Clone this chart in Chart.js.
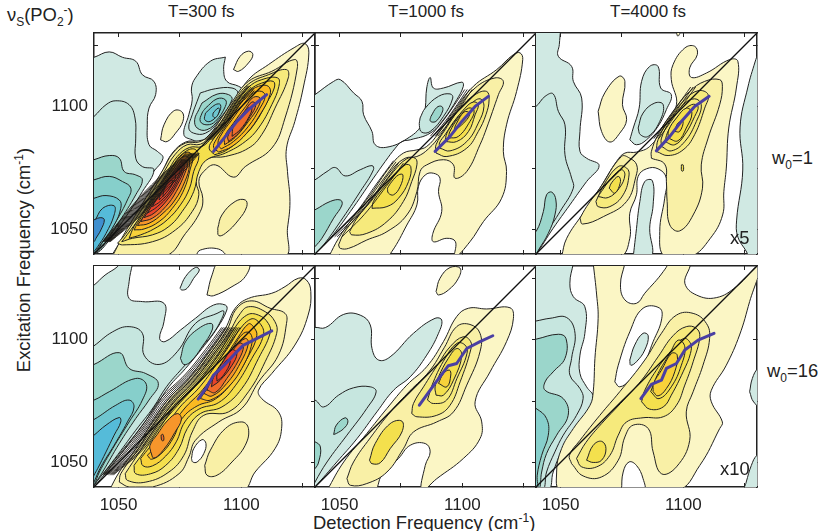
<!DOCTYPE html>
<html>
<head>
<meta charset="utf-8">
<title>2D IR spectra</title>
<script src="https://cdn.jsdelivr.net/npm/chart.js@4/dist/chart.umd.min.js"></script>
<style>
  html, body { margin: 0; padding: 0; background: #fff; }
  #page { position: relative; width: 818px; height: 531px; overflow: hidden; font-family: "Liberation Sans", sans-serif; color: #222; }
  #page canvas { position: absolute; }
  .txt { position: absolute; font-size: 18.4px; line-height: 18px; white-space: nowrap; }
  .txt sub, .txt sup { font-size: 12px; line-height: 0; }
  .ttl { font-size: 17px; }
</style>
</head>
<body>
<div id="page">
  <div class="txt ttl" style="left:168px;top:3px;">T=300 fs</div>
  <div class="txt ttl" style="left:388px;top:3px;">T=1000 fs</div>
  <div class="txt ttl" style="left:610px;top:3px;">T=4000 fs</div>
  <div class="txt" style="left:7px;top:6px;">&nu;<sub>S</sub>(PO<sub>2</sub><sup>-</sup>)</div>
  <div class="txt" style="left:313px;top:514px;">Detection Frequency (cm<sup>-1</sup>)</div>
  <div class="txt" style="left:24px;top:260px;transform:translate(-50%,-50%) rotate(-90deg);">Excitation Frequency (cm<sup>-1</sup>)</div>
  <div class="txt" style="left:772px;top:149px;">w<sub>0</sub>=1</div>
  <div class="txt" style="left:767px;top:362px;">w<sub>0</sub>=16</div>
  <div class="txt" style="left:730px;top:229px;z-index:5;">x5</div>
  <div class="txt" style="left:720px;top:460px;z-index:5;">x10</div>
</div>
<script>
// axis data
const axisMin = 1040;
const axisMax = 1130;
const tickValues = [1050, 1075, 1100, 1125];
const labelledTicks = [1050, 1100];
const diagonal = [1040, 1040, 1130, 1130];

// contour lines, [x, y, x, y, ...] in cm-1
// level: >0 bleach (yellow to red), <0 induced absorption (teal to blue), 0 = blank
const panelALevels = [-1, -2, -3, -4, -5, -6, -7, -1, -2, -3, -4, -5, -5, 1, 1, 1, 0, 2, 2, 3, 4,
  5, 6, 7, 8, 9, 9, 9, 10, 10, 5, 6, 6, 7, 8, 8];
const panelAShapes = [
  [1038.1,1119.8, 1040,1120.1, 1046.2,1122.3, 1051.6,1120.1, 1057,1118.5, 1059.7,1113, 1064.4,1110.3, 1065.1,1104.9, 1062.4,1099.4, 1061.7,1092.6, 1062.4,1084.5, 1065.8,1081.8, 1068.1,1079, 1063.8,1072.9, 1054.3,1058, 1044.9,1045, 1040,1040, 1038.1,1038.2],
  [1038.1,1094.7, 1040,1096, 1044.9,1100.8, 1048.9,1102.4, 1054.3,1100.8, 1056.7,1095.4, 1057,1087.2, 1057,1079, 1059.7,1075.6, 1064.4,1074.3, 1059.7,1065.4, 1051.6,1053.2, 1043.5,1042.3, 1040,1039.6, 1038.1,1038.2],
  [1038.1,1077.7, 1040,1078.4, 1046.2,1080.1, 1050.3,1079, 1052.3,1073.6, 1057,1072.2, 1059.7,1070.2, 1057,1064.1, 1050.3,1053.2, 1043.5,1043, 1040,1039.6, 1038.1,1038.2],
  [1038.1,1069.5, 1040,1070.2, 1046.2,1071.6, 1051.6,1069.5, 1055,1066.8, 1053.6,1062, 1048.9,1053.2, 1042.8,1043.7, 1040,1039.6, 1038.1,1038.2],
  [1038.1,1062, 1040,1062.7, 1044.9,1063.8, 1050.3,1062, 1050.9,1058.6, 1048.2,1051.8, 1043.5,1045, 1040,1040.3, 1038.1,1038.2],
  [1038.1,1052.5, 1040,1053.2, 1043.5,1058.6, 1048.2,1059.6, 1048.2,1055.9, 1044.9,1048.4, 1041.5,1043, 1040,1041, 1038.1,1038.2],
  [1038.1,1053, 1040,1053.9, 1042.8,1054.8, 1044.2,1053.9, 1042.8,1049.8, 1040.8,1046.4, 1040,1045, 1038.1,1044],
  [1093.5,1120.2, 1087.4,1118.5, 1081.3,1111.7, 1079.7,1107.6, 1080,1102.8, 1078.6,1096.7, 1076.6,1088.6, 1080,1086.5, 1083.3,1085.8, 1087.4,1087.9, 1093.5,1094.7, 1100.2,1106.9, 1098.9,1108.3, 1094.1,1110.3, 1092.8,1115.1],
  [1083.3,1105.6, 1089.4,1107.3, 1096.2,1107.6, 1098.6,1105.6, 1096.2,1101.5, 1090.8,1094, 1085.4,1089.2, 1080.6,1089.2, 1078.6,1091.3, 1080,1096.7, 1082,1102.2],
  [1084,1101.5, 1090.1,1105.1, 1094.8,1104.9, 1096.2,1102.8, 1090.8,1094.7, 1086,1090.6, 1082,1091.3, 1081,1094.7, 1082.7,1098.8],
  [1085.4,1099.4, 1090.1,1103.2, 1093.5,1102.8, 1093.5,1100.1, 1089.4,1094, 1086,1092.6, 1083.3,1094, 1084,1097.4],
  [1085.4,1097.4, 1089.4,1100.8, 1091.5,1100.8, 1090.8,1097.4, 1087.4,1094, 1085.1,1094.7],
  [1088.5,1097.4, 1090.5,1099.4, 1091.2,1098.8, 1089.7,1095.6, 1088.5,1096],
  [1067.1,1086.5, 1068.5,1092.6, 1072.5,1098.3, 1075.9,1097.8, 1076.2,1094, 1073.2,1089.2, 1069.8,1085.8],
  [1096.8,1115.1, 1099.5,1120.5, 1102.9,1122.6, 1104.7,1121.2, 1102.9,1117.8, 1098.9,1114.4],
  [1046.9,1038.9, 1051.6,1046.4, 1057,1054.6, 1062.4,1064.1, 1067.8,1073.6, 1071.9,1081.1, 1077.3,1085.6, 1082.7,1086.1, 1087.4,1087.9, 1092.1,1094, 1096.2,1100.8, 1102.9,1111, 1111,1117.1, 1121.8,1124.2, 1125.9,1125.7, 1127.5,1121.9, 1125.2,1107.6, 1121.8,1094, 1118.4,1083.1, 1118.8,1073.6, 1119.8,1061.4, 1118.8,1050.5, 1117.1,1038.9],
  [1081.3,1038.9, 1083.3,1041.6, 1090.8,1042, 1093.5,1038.9],
  [1090.4,1050.5, 1092.1,1055.9, 1097.5,1061.4, 1101.6,1062, 1102.2,1059.3, 1098.9,1053.9, 1093.5,1048.4, 1090.8,1047.5],
  [1047.6,1039.3, 1069.2,1039.3, 1077.3,1048.4, 1083.3,1057.3, 1084.3,1062.7, 1082.7,1069.5, 1084.7,1073.6, 1089.4,1076.3, 1096.8,1071.3, 1101.6,1075.6, 1112.4,1083.1, 1117.8,1095.4, 1122.8,1115.8, 1121.8,1119.2, 1112.4,1114.4, 1102.9,1110.3, 1096.2,1101.9, 1090.8,1093.7, 1086.7,1088.3, 1082.7,1085.6, 1077.3,1085.2, 1072.1,1081.1, 1068.1,1074.3, 1062.7,1065.4, 1057.3,1056.6, 1051.9,1047.5],
  [1049.6,1044.4, 1051.6,1043.7, 1063.8,1045, 1073.2,1049.8, 1080,1057.3, 1082.7,1064.1, 1081.6,1069.5, 1083.3,1075.6, 1086.7,1079, 1093.5,1079.7, 1102.9,1083.1, 1108.3,1088.6, 1113.7,1099.4, 1119.1,1111.7, 1118.4,1115.1, 1111,1113, 1102.9,1109.2, 1096.8,1101.9, 1091.4,1093.3, 1087.4,1088.1, 1083.3,1084.7, 1077.9,1084.5, 1072.9,1080.4, 1068.6,1073.6, 1063.4,1064.8, 1058,1055.9, 1052.7,1048],
  [1051.3,1045, 1055.7,1046.4, 1063.8,1047.8, 1070.5,1051.2, 1075.9,1057.3, 1080.6,1065.4, 1082.7,1073.6, 1086,1078.4, 1093.5,1081.1, 1101.6,1085.8, 1107,1091.3, 1112.4,1100.8, 1115.3,1108.3, 1114.8,1111.7, 1108.3,1111, 1102.9,1107.9, 1097.8,1101.6, 1092.4,1092.9, 1088.1,1087.6, 1084,1083.8, 1078.9,1083.4, 1073.9,1079.7, 1069.6,1072.9, 1064.2,1064.1, 1058.8,1055.2, 1053.6,1048],
  [1054.3,1046.4, 1059,1047.8, 1064.4,1050.2, 1069.8,1053.9, 1075.2,1060, 1078.9,1066.8, 1080.6,1073.6, 1082.7,1079.7, 1080.6,1082.8, 1075.9,1080.7, 1072.1,1076, 1065.4,1065.4, 1060.4,1057.3, 1056.3,1051.2],
  [1056.3,1049.8, 1060.4,1050.2, 1066.5,1053.2, 1071.9,1058.6, 1076.6,1066.1, 1079.3,1075, 1080.2,1079.7, 1077.9,1081.5, 1074.6,1079, 1072.5,1076.3, 1065.8,1065.4, 1060.8,1057.3, 1057.7,1052.5],
  [1057.7,1051.6, 1062.4,1052.5, 1068.1,1056.6, 1073,1062, 1077,1069.5, 1078.9,1076.3, 1078,1079.7, 1075.7,1079.3, 1073,1075.6, 1066.2,1065.4, 1061.4,1057.3],
  [1059,1053.2, 1063.8,1054.6, 1069.2,1059.3, 1073.5,1065.4, 1077,1072.9, 1078,1076.9, 1076.2,1078.3, 1073.5,1075.2, 1066.7,1065.4, 1062.1,1058.3],
  [1060.4,1054.8, 1064.4,1056.6, 1069.8,1062, 1073.9,1068.2, 1076.6,1074.3, 1076.2,1077, 1074,1075, 1067.3,1065.4, 1063.1,1058.9],
  [1061.7,1056.6, 1065.8,1059.3, 1070.5,1064.1, 1074.3,1070.2, 1075.9,1075, 1074.6,1075.6, 1068.1,1066.1, 1063.8,1060],
  [1063.8,1059.3, 1067.2,1061.6, 1071.3,1066.1, 1074.3,1071.6, 1075,1074.3, 1073.2,1074.3, 1068.8,1066.8, 1065.1,1061.6],
  [1066.5,1062, 1069.8,1065.4, 1072.5,1069.5, 1073.2,1072.2, 1071.6,1072.2, 1069.2,1067.9, 1067,1064.1],
  [1068.1,1063.4, 1070.8,1066.8, 1072.1,1069.8, 1070.8,1069.8, 1068.5,1066.1],
  [1089.1,1080.4, 1093.5,1082, 1100.2,1087.2, 1105.6,1093.3, 1110.3,1101.5, 1113.4,1107.6, 1113,1110.3, 1108.3,1109.6, 1103.6,1106.9, 1098.6,1101.1, 1093.2,1092.6, 1088.7,1086.9, 1086.9,1083.1],
  [1090.8,1081.5, 1096.2,1083.8, 1102.2,1089.2, 1107.6,1096.7, 1111.7,1104.9, 1111,1108.3, 1107,1108.3, 1102.9,1105.6, 1099.1,1100.4, 1093.7,1092.2, 1089.7,1086.5, 1088.7,1083.4],
  [1091.8,1082.8, 1096.8,1085.8, 1102.9,1092, 1107.6,1099.4, 1109.7,1104.2, 1108.3,1106.2, 1104.9,1105.6, 1101.3,1101.5, 1096.2,1094.7, 1091.4,1087.9, 1090.5,1084.7],
  [1093.2,1084.5, 1097.5,1087.5, 1102.9,1094, 1107,1100.1, 1107.6,1103.5, 1104.9,1103.8, 1101.8,1100.1, 1096.8,1093.3, 1093.2,1087.9],
  [1094.8,1085.8, 1098.9,1089.2, 1103.6,1096, 1105.9,1100.8, 1104.3,1101.9, 1101.3,1098.1, 1096.8,1092, 1094.5,1087.9],
  [1096.2,1087.9, 1099.5,1090.6, 1103.2,1096, 1104.3,1099.4, 1102.7,1099.4, 1099.5,1095.4, 1096.8,1092],
];
const panelARidge = [1088.7,1081.8, 1093.5,1087.9, 1098.2,1094, 1102.9,1098.8, 1107,1102.2, 1110.3,1104.9];
// tightly packed contour lines next to the diagonal
const panelABand = [
  [1043.5,1045, 1050,1053, 1058.5,1063, 1068.5,1073, 1077.5,1081],
  [1043.7,1045, 1050.4,1053, 1059,1063, 1069,1073, 1078,1081],
  [1043.9,1045, 1050.8,1053, 1059.5,1063, 1069.5,1073, 1078.5,1081],
  [1044.1,1045, 1051.2,1053, 1060,1063, 1070,1073, 1079,1081],
  [1044.3,1045, 1051.6,1053, 1060.5,1063, 1070.5,1073, 1079.5,1081],
  [1044.5,1045, 1052,1053, 1061,1063, 1071,1073, 1079.8,1081],
  [1044.7,1045, 1052.4,1053, 1061.5,1063, 1071.5,1073, 1080.1,1081],
  [1044.9,1045, 1052.8,1053, 1062,1063, 1072,1073, 1080.4,1081],
  [1045.1,1045, 1053.2,1053, 1062.5,1063, 1072.4,1073, 1080.7,1081],
  [1045.3,1045, 1053.6,1053, 1063,1063, 1072.8,1073, 1081,1081],
  [1045.5,1045, 1054,1053, 1063.5,1063, 1073.2,1073, 1081.3,1081],
  [1045.7,1045, 1054.4,1053, 1064,1063, 1073.6,1073, 1081.6,1081],
  [1045.9,1045, 1054.8,1053, 1064.5,1063, 1074.1,1073, 1081.9,1081],
  [1046.1,1045, 1055.2,1053, 1065.1,1063, 1074.6,1073, 1082.2,1081],
  [1046.3,1045, 1055.6,1053, 1065.7,1063, 1075.2,1073, 1082.5,1081],
  [1046.6,1045, 1056.1,1053, 1066.4,1063, 1076,1073, 1082.9,1081],
  [1085,1086.5, 1092,1094, 1096.5,1101, 1102.5,1108.5],
  [1085.5,1086.5, 1092.5,1094, 1097,1101, 1103,1108.5],
  [1086,1086.5, 1093,1094, 1097.5,1101, 1103.5,1108.5],
  [1086.5,1086.5, 1093.5,1094, 1098,1101, 1104,1108],
  [1087,1086.5, 1094,1094, 1098.5,1101, 1104.5,1107.5],
  [1087.5,1086.5, 1094.5,1094, 1099,1101, 1105,1107],
  [1088,1086.5, 1095,1094, 1099.5,1101, 1105.3,1106.5],
];

const panelBLevels = [-1, -2, -3, -2, -3, 1, 2, 3, 4, 4, 3, 3, 4, 4, 5];
const panelBShapes = [
  [1038.1,1103.6, 1040,1104.9, 1047.6,1110.3, 1050.3,1111, 1055.7,1105.6, 1059.1,1102.2, 1059.8,1096.7, 1063.2,1089.9, 1064.5,1084.5, 1069.3,1083.5, 1077.4,1086.9, 1083.5,1092.6, 1084.9,1099.4, 1085.5,1107.6, 1086.9,1111.9, 1088.2,1107.6, 1092.3,1107.6, 1099.8,1110, 1100.4,1108.3, 1097.7,1102.8, 1092.3,1094.7, 1086.9,1089.2, 1078.8,1086.5, 1075.4,1085.8, 1072.7,1083.1, 1068.6,1077.7, 1063.8,1070.9, 1054.4,1057.3, 1046.2,1046.4, 1040,1040, 1038.1,1038.2],
  [1038.1,1069.5, 1040,1070.2, 1044.9,1073.6, 1048.3,1075.2, 1052.3,1071.8, 1058.4,1074.3, 1063.2,1076, 1063.8,1074.3, 1058.4,1065.4, 1050.3,1053.2, 1043.5,1043.7, 1040,1040, 1038.1,1038.2],
  [1038.1,1057.3, 1040,1058, 1046.2,1061.4, 1050.3,1062, 1051,1060, 1047.6,1054.6, 1042.8,1046.4, 1040,1043, 1038.1,1041],
  [1082.8,1095.4, 1084.9,1099.4, 1090.3,1104.2, 1095,1105.2, 1096.1,1103.5, 1092.3,1096, 1086.9,1089.9, 1083.5,1089.6, 1082.5,1092.3],
  [1087.2,1096, 1089.6,1099.7, 1091.6,1100.1, 1092,1098.3, 1089.6,1094.3, 1088,1093.7, 1086.9,1094.3],
  [1045.6,1038.9, 1049.6,1046.4, 1055.7,1055.2, 1062.5,1064.1, 1070.6,1075.6, 1076,1081.1, 1081.5,1082.4, 1085.5,1083.8, 1090.3,1089.2, 1096.4,1098.1, 1104.5,1108.3, 1114,1115.1, 1120.8,1121.2, 1123.5,1121.9, 1124.6,1119.2, 1122.1,1106.2, 1118,1092.6, 1116.7,1081.8, 1118,1073.6, 1116,1062.7, 1108.6,1053.2, 1103.1,1045, 1097,1038.9, 1097.2,1045, 1093.7,1046.4, 1088.2,1045, 1088,1048.4, 1091.6,1057.3, 1090.3,1065.4, 1090.9,1070.9, 1088.2,1072.9, 1084.9,1072.2, 1082.1,1067.5, 1081.5,1060, 1077.4,1051.8, 1071.3,1041, 1068.6,1038.9],
  [1049.6,1043.7, 1050.3,1042.3, 1053.7,1042.3, 1061.1,1045.7, 1069.3,1049.1, 1077.4,1055.9, 1081.5,1065.4, 1082.8,1073.6, 1085.5,1076.3, 1092.3,1078.4, 1096.4,1076.3, 1097,1070.9, 1101.8,1073.6, 1107.2,1084.5, 1109.9,1091.3, 1114.7,1104.9, 1116.7,1110.3, 1113.3,1111.7, 1105.2,1107.6, 1097,1097.4, 1091.2,1088.6, 1086.2,1082.8, 1081.5,1079.7, 1076.7,1079, 1071.3,1074.3, 1063.2,1062.7, 1056.4,1054.6, 1051.7,1048.4],
  [1054.1,1049.1, 1055,1047.8, 1061.1,1048.4, 1069.3,1053.2, 1076,1061.4, 1079.4,1069.5, 1081.5,1076.3, 1080.8,1079, 1077.4,1078.8, 1072,1073.6, 1063.8,1062.7, 1057.1,1054.6],
  [1063.2,1058.6, 1069.3,1059.3, 1074,1062.7, 1078.1,1069.5, 1079,1075.6, 1076.7,1076.3, 1072,1071.6, 1067.2,1066.1, 1063.8,1061.4],
  [1069.5,1066.8, 1069.9,1064.8, 1072,1064.1, 1074.7,1067.5, 1075.8,1072.2, 1074,1072.2, 1071.3,1069.5],
  [1089.3,1081.1, 1093.7,1079.7, 1101.8,1083.1, 1106.5,1089.9, 1109.6,1096.7, 1110.9,1102.8, 1109.9,1106.2, 1105.2,1104.9, 1099.1,1099.4, 1093,1090.6, 1089.3,1084.5],
  [1090.9,1083.1, 1095,1082, 1101.8,1085.8, 1106.5,1093.3, 1108.8,1100.1, 1107.2,1103.2, 1103.1,1100.8, 1097.7,1095.4, 1093,1088.6, 1090.7,1085.2],
  [1093,1085.8, 1097.7,1085.8, 1102.5,1089.9, 1105.2,1096.7, 1106.5,1100.8, 1104.5,1101.9, 1101.1,1099.4, 1096.4,1093.3, 1093.7,1089.2],
  [1094.3,1087.2, 1098.4,1087.9, 1103.1,1094, 1104.8,1098.3, 1102.5,1099.4, 1098.4,1095.4, 1095,1090],
  [1097,1090.2, 1101.8,1094.7, 1102.9,1097.4, 1100.7,1097.8, 1097.7,1093.3, 1096.8,1091],
];
const panelBRidge = [1088.9,1081.8, 1095,1087.9, 1099.8,1094, 1105.2,1100.1, 1110.6,1104.2];
const panelBBand = [
  [1047,1047, 1056,1056, 1065,1068.5, 1072,1078],
  [1048,1047, 1057,1056, 1066,1068, 1073,1077.5],
  [1049,1047, 1058,1056, 1067,1067.5, 1074,1077],
  [1051,1047, 1060,1056, 1069,1067.5, 1076,1077],
  [1087,1088, 1092,1094, 1097,1101, 1101,1107],
  [1088,1088, 1093,1094, 1098,1101, 1102,1107],
  [1089,1088, 1094,1094, 1099,1101, 1103,1107],
  [1090,1088, 1095,1094, 1100,1101, 1104,1107],
];

const panelCLevels = [-1, -2, -3, -1, -2, -1, -1, 1, 1, 1, 2, 3, 3, 4, 2, 3, 3, 4, 4, 5, 4];
const panelCShapes = [
  [1050,1131.4, 1049.5,1125.3, 1049.1,1120.5, 1054.5,1116.4, 1055.2,1110.3, 1058.6,1103.5, 1057.9,1089.9, 1057.9,1081.8, 1060.6,1079, 1065.7,1076, 1060.6,1069.5, 1053.8,1060, 1047,1050.5, 1040,1040, 1037.6,1038.2, 1037.6,1131.4],
  [1037.6,1099.4, 1040,1100.1, 1043.7,1104.2, 1047,1105.2, 1049.1,1098.1, 1051.8,1092.6, 1051.8,1080.4, 1054.5,1070.9, 1055.2,1066.8, 1049.8,1057.3, 1044.3,1048.4, 1040,1040, 1037.6,1038.2],
  [1037.6,1048.4, 1040,1049.1, 1043,1057.3, 1044.3,1064.1, 1046.4,1065.2, 1048.1,1062, 1047.7,1055.9, 1045,1048.4, 1041,1041.6, 1040,1040, 1037.6,1038.2],
  [1078.2,1086.5, 1079.6,1091.3, 1082,1099.4, 1083,1110.3, 1086.3,1116.4, 1089.7,1116.4, 1090.8,1107.6, 1095.1,1104.9, 1093.1,1098.8, 1089.7,1092, 1085,1086.5, 1080.9,1084.5],
  [1081.6,1091.3, 1083.6,1097.4, 1088.4,1101.5, 1091.8,1100.8, 1090.4,1094, 1085.7,1087.9, 1082.5,1088.6],
  [1079.6,1038.9, 1080.7,1048.4, 1082.3,1061.4, 1084.3,1069.5, 1087.4,1069.8, 1087.7,1060, 1086.3,1050.5, 1087,1038.9],
  [1130.5,1122, 1129.2,1118.2, 1126.3,1108, 1123.1,1091.7, 1124.2,1074.2, 1121.7,1053.8, 1122.2,1046.9, 1125.8,1040.8, 1127,1038, 1133,1038, 1133,1122],
  [1065.3,1098.1, 1068,1105.6, 1073.9,1112.4, 1076.2,1110.3, 1075.2,1100.8, 1076.9,1094.7, 1074.1,1089.2, 1070.1,1085.6, 1066.7,1089.9],
  [1096.9,1131.4, 1097.8,1128.7, 1098.8,1131.4],
  [1050.4,1038.9, 1052.5,1046.4, 1059.2,1056.6, 1066,1066.8, 1072.8,1077.7, 1076.2,1081.1, 1080.9,1081.5, 1086.3,1083.8, 1091.8,1091.3, 1097.2,1100.8, 1095.1,1111, 1095.8,1117.1, 1100.6,1123.9, 1104.6,1124.6, 1105.7,1121.2, 1102.6,1115.8, 1103.3,1111.9, 1109.4,1113.7, 1118.9,1119.2, 1122.2,1118.5, 1121.6,1107.6, 1118.5,1091.3, 1117.5,1075, 1116.5,1065.4, 1116,1055.9, 1111,1046.4, 1103,1038.9, 1092.4,1038.9, 1090.4,1049.1, 1092.4,1062.7, 1093.1,1070.9, 1089.7,1074.7, 1085,1074.7, 1081.6,1071.6, 1080.9,1064.1, 1078.2,1056.6, 1078.2,1046.4, 1074.1,1038.9],
  [1057.9,1054.6, 1059,1052.2, 1067.4,1055.2, 1076.9,1061.4, 1080.7,1071.6, 1081,1076.3, 1078.2,1079, 1074.8,1079.7, 1066,1066.8, 1060.6,1059.3],
  [1064.4,1061.4, 1065.3,1059.3, 1070.1,1059.3, 1075.5,1064.1, 1077.9,1072.2, 1076.9,1075, 1073.5,1075.6, 1068,1068.8],
  [1065.3,1063.4, 1069.4,1063, 1073.9,1066.8, 1076.2,1072.2, 1074.8,1074.3, 1070.8,1071.1, 1067.1,1066.1],
  [1069.8,1066.8, 1072.1,1064.8, 1074.4,1069.5, 1073.5,1071.6, 1070.8,1069],
  [1087,1079, 1092.4,1076.6, 1093.1,1069.5, 1093.4,1061.4, 1094.5,1051.8, 1098.5,1049.4, 1104,1055.9, 1107.8,1066.8, 1107.3,1076.3, 1110.1,1087.2, 1114.8,1100.8, 1115.9,1108.3, 1114.8,1111, 1108.7,1110.3, 1102.6,1106.2, 1095.8,1098.1, 1089.7,1088.6, 1087,1081.8],
  [1089,1081.8, 1093.8,1080.1, 1099.9,1082.4, 1104.6,1088.6, 1108.7,1099.4, 1110.1,1104.9, 1106,1106.5, 1100.6,1102.8, 1094.5,1095.4, 1089.7,1086.5],
  [1091.1,1083.8, 1095.1,1082, 1100.6,1085.8, 1105.3,1094, 1107.3,1100.8, 1104.6,1103.2, 1099.9,1100.8, 1094.5,1094, 1091.1,1087.2],
  [1092.4,1085.8, 1096.5,1084.5, 1100.6,1088.6, 1104.6,1096, 1106,1100.1, 1103.3,1100.8, 1098.5,1096.7, 1094.1,1090.6],
  [1093.8,1087.2, 1097.8,1086.1, 1101.2,1091.3, 1103.5,1097.4, 1101.2,1099.4, 1097.2,1095.4, 1094.1,1090.6],
  [1096.5,1089.9, 1098.5,1089.9, 1099.9,1094, 1097.8,1093.3],
  [1099.2,1076.3, 1099.9,1076.3, 1100,1073.9, 1099.3,1073.9],
];
const panelCRidge = [1089,1082, 1094.5,1087.9, 1099.2,1094, 1104.6,1100.1, 1110.5,1104.2];
const panelCBand = [
  [1088,1087, 1093,1094, 1098,1101, 1103,1108],
  [1089,1087, 1094,1094, 1099,1101, 1104,1108],
  [1090,1087, 1095,1094, 1100,1101, 1105,1108],
];

const panelDLevels = [-1, 0, -1, -2, -3, -3, -4, -5, -6, 1, 1, 0, 2, 2, 3, 4, 5, 6, 7, 8, 6, 7, 8, 9, 9];
const panelDShapes = [
  [1055.7,1131.1, 1054.3,1123.6, 1054.3,1116.8, 1059.7,1115.5, 1068.5,1114.8, 1068.5,1107.3, 1066.7,1100.5, 1068.9,1099.2, 1075.2,1103.9, 1081.3,1108.7, 1088.7,1114.1, 1093.5,1114.1, 1094.1,1112.1, 1090.1,1104.6, 1084,1096.4, 1077.3,1088.3, 1070.5,1080.8, 1065.5,1073.3, 1059.7,1065.2, 1049.5,1051.6, 1040,1040, 1038.1,1038, 1038.1,1131.1],
  [1038,1121, 1040,1122.2, 1044.5,1126.3, 1049.4,1129.6, 1050.5,1131.5, 1038,1131.5],
  [1075,1120.9, 1077.3,1125.7, 1081.3,1129.4, 1082.9,1128.4, 1080.6,1125, 1077.9,1120.9, 1075.9,1120.2],
  [1038.1,1096.4, 1040,1097.5, 1047.6,1103.2, 1054.3,1105.3, 1059.7,1102.6, 1060.4,1093.7, 1066.5,1089.9, 1073.9,1095.1, 1081.3,1106.6, 1090.1,1110.7, 1092.8,1111.7, 1092.1,1108.7, 1088.1,1101.9, 1082.7,1095.8, 1075.9,1088.3, 1069.5,1080.8, 1064.3,1072.6, 1057,1063.1, 1048.5,1051.6, 1040,1040.7, 1038.1,1038],
  [1075.2,1092.4, 1077.3,1099.2, 1082.7,1104.6, 1087.8,1106.6, 1088.1,1103.9, 1084,1097.1, 1079.3,1091, 1076.6,1089.9],
  [1038.1,1089.4, 1040,1089.9, 1050.3,1094.7, 1054.3,1088.3, 1061.1,1086.2, 1066.2,1082.2, 1062.4,1075.4, 1057,1067.9, 1050.3,1057.7, 1043.5,1046.1, 1040,1040.7, 1038.1,1038],
  [1038.1,1075.4, 1040,1075.4, 1046.2,1078.8, 1057,1084.2, 1061.3,1081.8, 1059.7,1075.4, 1054.3,1066.5, 1047.6,1055.6, 1042.2,1046.1, 1040,1040.7, 1038.1,1038],
  [1038.1,1067.2, 1040,1067.5, 1048.9,1073.3, 1054.3,1075.4, 1056.3,1072.6, 1053.6,1066.5, 1048.2,1057, 1042.8,1048.2, 1040,1042, 1038.1,1038],
  [1038.1,1059.7, 1040,1061.1, 1044.9,1065.2, 1050.3,1068.3, 1050.9,1066.5, 1048.2,1061.1, 1044.9,1054.3, 1041.5,1047.5, 1040,1044.8, 1038.1,1040.7],
  [1046.2,1038.6, 1050.3,1046.1, 1057,1055.6, 1063.8,1066.5, 1070.5,1076, 1078.6,1084.2, 1086.7,1095.1, 1093.5,1104.6, 1097.5,1112.8, 1102.9,1116.8, 1112.4,1118.9, 1117.8,1121.6, 1123.2,1125, 1126.5,1124.3, 1128.3,1119.6, 1127.2,1110, 1121.8,1097.8, 1112.4,1086.2, 1107,1079.4, 1108.3,1076, 1115.1,1070.6, 1116.4,1063.8, 1113.7,1055.6, 1105.6,1046.1, 1100.2,1038.6],
  [1086,1118.2, 1088.1,1126.4, 1090.8,1131.1, 1102.9,1131.1, 1101.6,1125.7, 1096.2,1121.6, 1088.7,1117.9],
  [1079.7,1051.6, 1080.6,1055.6, 1084,1059.3, 1085.6,1057.7, 1084.7,1053.6, 1082,1050.2, 1080.2,1050.2],
  [1085.1,1048.8, 1087.4,1055, 1093.5,1063.8, 1100.2,1066.5, 1102.9,1063.8, 1101.6,1057, 1096.2,1050.2, 1090.1,1044.8, 1086,1044.8],
  [1050.3,1042, 1054.3,1040, 1063.8,1040, 1074.6,1045.4, 1078.6,1052.2, 1081.3,1059, 1090.8,1066.5, 1100.2,1072, 1107,1082.8, 1115.1,1093.7, 1118.4,1106.6, 1117.8,1110.7, 1111.7,1112.8, 1104.3,1115.8, 1098.2,1112.8, 1094.1,1103.9, 1087.4,1094.4, 1079.3,1083.5, 1071.2,1075.4, 1064.4,1065.8, 1057.7,1055, 1050.9,1045.4],
  [1052.7,1045.4, 1053.6,1042.7, 1061.1,1042, 1070.5,1046.1, 1076.6,1052.9, 1080,1062.4, 1084.7,1069.2, 1094.8,1070.6, 1102.9,1078.8, 1109.7,1091, 1114.4,1102.6, 1113.7,1107.3, 1109.7,1111.4, 1102.9,1113.4, 1099.1,1110, 1095.1,1103, 1088.3,1093.4, 1080.2,1082.6, 1072.3,1074.4, 1065.5,1064.9, 1058.8,1054.7],
  [1056.3,1048.8, 1057,1045.4, 1063.1,1045.4, 1069.2,1048.8, 1074.6,1055.6, 1078,1063.8, 1083.3,1069.9, 1092.1,1072.6, 1100.2,1080.1, 1107,1092.4, 1111.7,1102.6, 1111,1106.6, 1107,1110, 1102.2,1110, 1096.4,1103.5, 1089.7,1092.6, 1081.6,1081.8, 1073.3,1073.3, 1066.6,1063.8, 1060,1053.9],
  [1059,1051.6, 1060,1048.6, 1063.8,1048.6, 1069.2,1052.6, 1073.5,1058.4, 1077,1066.5, 1082.7,1071.7, 1090.8,1074.4, 1097.5,1081.2, 1104.3,1092.4, 1109,1101.9, 1107.6,1106.6, 1103.9,1108.4, 1097.9,1102.2, 1091.2,1092, 1083.1,1080.8, 1074.7,1072.2, 1068.1,1062.7, 1061.7,1055],
  [1061.7,1052.9, 1063.5,1051.3, 1068.1,1054.3, 1072.5,1060.4, 1075.9,1067.9, 1082,1073, 1089.4,1075.8, 1096.2,1082.6, 1102.9,1093.4, 1106.3,1101.6, 1104.9,1105.3, 1102.9,1106.4, 1098.6,1100.8, 1092.1,1090.7, 1084.4,1079.8, 1076.3,1071.3, 1069.8,1061.8, 1064.4,1055.6],
  [1063.1,1054.3, 1064.4,1051.8, 1068.5,1055.4, 1072.9,1062.2, 1075.6,1067.6, 1073.9,1069.9, 1069.8,1066.9, 1065.8,1061.5, 1062.8,1057],
  [1067.3,1061.1, 1068.1,1061.4, 1068.4,1059, 1067.6,1059],
  [1083.3,1076, 1087.4,1075.4, 1094.8,1080.8, 1100.9,1089.6, 1104.3,1098.5, 1103.6,1102.6, 1100.9,1102.6, 1096.8,1097.1, 1091.4,1088.3, 1086,1080.1],
  [1084.7,1078.1, 1088.1,1077.1, 1094.1,1082.2, 1099.5,1090.3, 1102.9,1098.5, 1101.6,1100.5, 1097.5,1096.4, 1092.1,1087.6, 1087.4,1081.5],
  [1086,1079.5, 1089.4,1078.5, 1094.1,1084.2, 1098.9,1091.7, 1100.9,1097.5, 1099.1,1098.5, 1094.8,1093, 1090.1,1086.2, 1087,1081.8],
  [1087.8,1080.8, 1091.4,1083.5, 1096.2,1089.6, 1098.2,1094.4, 1096.2,1095.8, 1092.1,1090.3, 1088.7,1084.8],
  [1090.1,1083.1, 1092.8,1085.6, 1095.5,1091, 1094.1,1091.7, 1091.4,1087.6, 1090.1,1085.8],
];
const panelDRidge = [1082.4,1075.8, 1086,1080.8, 1088.7,1085.6, 1092.8,1089.4, 1097.5,1094.4, 1100.9,1097.8, 1107,1100.8, 1112.4,1103.6];
const panelDBand = [
  [1043.5,1045, 1051.6,1055, 1059.7,1065, 1067.1,1076, 1077.3,1086, 1085.4,1096, 1092,1105],
  [1043.9,1045, 1052.3,1055, 1060.4,1065, 1068,1076, 1078.1,1086, 1086.2,1096, 1092.7,1105],
  [1044.3,1045, 1053.1,1055, 1061,1065, 1068.8,1076, 1078.9,1086, 1087,1096, 1093.4,1105],
  [1044.7,1045, 1053.8,1055, 1061.7,1065, 1069.7,1076, 1079.7,1086, 1087.8,1096, 1094,1105],
  [1045.1,1045, 1054.6,1055, 1062.3,1065, 1070.5,1076, 1080.5,1086, 1088.6,1096, 1094.7,1105],
  [1045.5,1045, 1055.3,1055, 1063,1065, 1071.4,1076, 1081.3,1086, 1089.4,1096, 1095.4,1105],
  [1045.9,1045, 1056,1055, 1063.7,1065, 1072.3,1076, 1082,1086, 1090.1,1096, 1096.1,1105],
  [1046.4,1045, 1056.8,1055, 1064.3,1065, 1073.1,1076, 1082.8,1086, 1090.9,1096, 1096.8,1105],
  [1046.8,1045, 1057.5,1055, 1065,1065, 1074,1076, 1083.6,1086, 1091.7,1096, 1097.4,1105],
  [1047.2,1045, 1058.2,1055, 1065.7,1065, 1074.9,1076, 1084.4,1086, 1092.5,1096, 1098.1,1105],
  [1047.6,1045, 1059,1055, 1066.3,1065, 1075.7,1076, 1085.2,1086, 1093.3,1096, 1098.8,1105],
  [1048,1045, 1059.7,1055, 1067,1065, 1076.6,1076, 1086,1086, 1094.1,1096, 1099.5,1105],
];

const panelELevels = [-1, -2, -3, -3, 1, 1, 2, 4, 3, 3, 4, 5];
const panelEShapes = [
  [1038.1,1104.6, 1040,1105, 1044.2,1104.9, 1051.7,1110.3, 1058.4,1110, 1062.5,1106, 1063.2,1096.4, 1065.9,1091.7, 1070.6,1093, 1080.1,1102.6, 1088.9,1108.7, 1091.6,1108, 1090.3,1102.6, 1085.5,1093.7, 1078.8,1084.9, 1072,1079.4, 1065.2,1070.6, 1057.1,1059.7, 1048.9,1050.2, 1040,1040, 1038.1,1038],
  [1038.1,1074.7, 1040,1075.4, 1043.5,1072.6, 1049.6,1077.4, 1055.7,1080.4, 1062.5,1080.8, 1064.9,1078.8, 1061.1,1072, 1053,1061.1, 1044.9,1050.2, 1040,1042, 1038.1,1038],
  [1047.6,1061.4, 1048.7,1065.2, 1052.3,1068.2, 1053.4,1066.5, 1051.7,1063.8, 1048.7,1061.8],
  [1038.1,1058.4, 1040,1058.4, 1042.2,1056.3, 1041.5,1050.2, 1040,1047.5, 1038.1,1046.1],
  [1089.3,1119.6, 1090.9,1125, 1095,1129.4, 1099.1,1129.1, 1098.4,1125, 1094.3,1120.2, 1090.3,1118.2],
  [1044.9,1038.6, 1051.7,1050.2, 1061.1,1061.8, 1069.3,1072, 1077.4,1081.5, 1085.5,1089, 1092.3,1099.2, 1097.7,1109.4, 1102.5,1112.8, 1109.9,1112.5, 1119.4,1113, 1120.8,1108.7, 1118,1099.2, 1111.3,1086.9, 1105.2,1074.7, 1107.9,1066.5, 1107.2,1059.7, 1100.4,1051.6, 1089.6,1043.4, 1083.5,1038.6, 1084.9,1048.8, 1086.9,1054.3, 1084.9,1057.7, 1078.8,1057, 1074,1051.6, 1067.2,1044.8, 1063.8,1038.6],
  [1053,1043.4, 1054.4,1040.7, 1061.1,1041.4, 1069.3,1046.1, 1076,1055.6, 1080.1,1062.4, 1089.6,1066.5, 1096.4,1070.6, 1101.8,1081.5, 1107.2,1095.1, 1107.2,1102.6, 1103.1,1106.2, 1097.7,1105.3, 1092.6,1096.7, 1086.6,1087.2, 1078.5,1079, 1071,1070.9, 1062.5,1060, 1055.7,1050.2],
  [1062.2,1050.9, 1064.5,1057.7, 1070.6,1065.8, 1075.4,1066.8, 1075.4,1062.4, 1070.6,1055.6, 1066.6,1049.9, 1063.2,1049.5],
  [1079.4,1069.9, 1081.5,1068.6, 1089.6,1069.2, 1095,1073.3, 1099.1,1082.8, 1103.4,1095.8, 1103.4,1099.2, 1100.4,1101.2, 1095,1097.1, 1090.3,1090.3, 1084.2,1080.8, 1080.1,1074],
  [1085.8,1075.4, 1088.2,1074, 1093.6,1075.4, 1097.8,1084.2, 1101.9,1094.4, 1101.1,1097.8, 1097.8,1098.5, 1093,1092.4, 1088.2,1082.8],
  [1089.3,1077.4, 1092.3,1077.4, 1096.4,1083.5, 1099.8,1093.7, 1097.8,1096.4, 1094.3,1092.4, 1090.3,1084.9, 1088.9,1080.8],
  [1090.3,1082.2, 1093.7,1080.8, 1095.3,1085.6, 1094.7,1087.6, 1092.3,1086.2],
];
const panelERidge = [1082.5,1073.3, 1088.9,1082.2, 1094.3,1089.4, 1097.7,1090.3, 1101.8,1096.4, 1107.2,1099.2, 1112.4,1101.6];

const panelFLevels = [-1, -2, -3, -4, -1, -1, 1, 0, 0, -1, 0, 2, 3, 4, 4, 4, 5];
const panelFShapes = [
  [1055.2,1131.1, 1053.8,1123, 1055.2,1117.5, 1059.9,1113.4, 1059.9,1102.6, 1057.9,1093.7, 1057.9,1086.2, 1060.6,1080.8, 1063.3,1076.7, 1060.6,1069.2, 1055.2,1061.1, 1050.4,1054.3, 1047,1046.1, 1045,1038.6, 1037.6,1038.6, 1037.6,1131.1],
  [1037.6,1107.3, 1040,1107.6, 1045.7,1108.7, 1052.5,1109, 1055.9,1102.6, 1054.5,1092.4, 1053.8,1085.6, 1057.9,1080.1, 1059.2,1076, 1056.5,1069.2, 1051.1,1061.1, 1047.7,1054.3, 1044.3,1046.1, 1042.7,1038.6, 1037.6,1038.6],
  [1037.6,1099.8, 1040,1100.2, 1049.1,1102.2, 1052.2,1100.5, 1051.8,1092.4, 1047,1086.9, 1043.7,1082.8, 1043.7,1079.4, 1051.1,1076, 1053.1,1069.2, 1048.4,1061.1, 1044.3,1053.6, 1042.3,1046.1, 1041,1038.6, 1037.6,1038.6],
  [1037.6,1072.6, 1040,1072, 1044.3,1067.9, 1045,1061.1, 1042.3,1052.9, 1040.5,1044.8, 1040.5,1038.6, 1037.6,1038.6],
  [1127,1078.8, 1128.1,1084.2, 1130.4,1088.3, 1132.4,1088.3, 1132.4,1072, 1128.6,1074.7],
  [1125.6,1042, 1127.7,1048.8, 1130,1052.9, 1132.4,1052.9, 1132.4,1038.6, 1125,1038.6],
  [1063.3,1131.1, 1064.7,1118.2, 1065.3,1108.7, 1064,1092.4, 1063.3,1078.8, 1062,1073.3, 1055.2,1063.8, 1050.4,1055.6, 1048.4,1046.1, 1050.4,1038.6, 1097.2,1038.6, 1106.7,1048.8, 1114.8,1063.8, 1115.9,1066.5, 1111.4,1074.7, 1111.4,1079.4, 1117.5,1089.6, 1122.9,1101.9, 1127,1115.5, 1131.1,1130.4, 1121.6,1121.6, 1113.4,1117.1, 1105.3,1118.2, 1100.6,1123, 1101.9,1131.1],
  [1076.2,1131.1, 1074.4,1122.3, 1076.2,1116.2, 1080.9,1114.8, 1084.3,1118.9, 1091.8,1127.7, 1093.1,1131.1],
  [1072.1,1082.8, 1073.5,1089.6, 1078.2,1103.2, 1083.6,1112.8, 1090.4,1112.8, 1091.1,1108, 1087.7,1099.2, 1083.6,1089.6, 1078.2,1083.5, 1074.1,1080.8],
  [1078.2,1091.7, 1080.2,1097.8, 1083.6,1102.6, 1085.7,1101.6, 1084.3,1095.8, 1080.9,1091, 1078.6,1089.6],
  [1074.8,1038.6, 1075.5,1046.1, 1077.9,1050.2, 1080.9,1048.8, 1083.6,1043.4, 1083.9,1038.6],
  [1054.5,1049.5, 1059.2,1044.5, 1066.7,1044.1, 1073.5,1050.9, 1076.2,1060.4, 1079.6,1065.2, 1085.7,1063.8, 1087.7,1054.3, 1091.1,1045.4, 1097.2,1048.2, 1102.6,1059, 1101.2,1070.6, 1104,1078.8, 1108,1089.6, 1110.7,1100.5, 1109.4,1106.6, 1104,1110.7, 1097.2,1110, 1091.1,1102.6, 1084.3,1091.7, 1074.1,1078.8, 1066,1069.2, 1057.9,1059, 1053.6,1052.9],
  [1056.5,1051.6, 1058.6,1048.2, 1064.7,1048.2, 1070.1,1052.9, 1073.5,1061.1, 1076.9,1066.5, 1083.6,1068.2, 1091.8,1068.6, 1097.2,1073.3, 1100.6,1081.5, 1104,1091, 1106.7,1101.2, 1105.3,1104.6, 1101.2,1105.3, 1095.8,1101.6, 1089.7,1093, 1083,1083.5, 1074.4,1074, 1066.7,1065.8, 1060.3,1058.1],
  [1060.6,1050.9, 1063.3,1057, 1066.7,1058.6, 1068.5,1055.6, 1066.7,1050.9, 1063.3,1050],
  [1083,1074.7, 1086.3,1071.7, 1091.8,1072.6, 1095.1,1077.4, 1099.9,1086.9, 1102.9,1094.4, 1102.9,1098.5, 1100.2,1100.5, 1095.8,1096.4, 1089.7,1088.6, 1084.3,1079.4],
  [1086.7,1078.8, 1090.1,1076, 1095.1,1080.8, 1099.2,1089.6, 1100.6,1097.1, 1097.9,1099.8, 1094.5,1094.4, 1089.7,1086.2],
  [1087.7,1078.8, 1089.7,1077.1, 1093.1,1080.1, 1096.5,1086.9, 1097.5,1093.7, 1095.2,1094.4, 1091.1,1087.6, 1087.9,1082.2],
];
const panelFRidge = [1082.7,1076, 1087,1081.8, 1091.1,1083.5, 1093.1,1088.3, 1097.2,1090.3, 1100.6,1095.8, 1106,1099.8, 1112.5,1102.6];

const levelColors = {
  '-7': '#3f8fcf', '-6': '#55bbd9', '-5': '#6ec6d0', '-4': '#86cfcb', '-3': '#9bd6cb', '-2': '#c6e6df', '-1': '#d0e9e3',
  '0': '#ffffff',
  '1': '#fbf6c5', '2': '#f9f0a6', '3': '#f6ea7c', '4': '#f4e04d', '5': '#f8d23a', '6': '#fbba21', '7': '#f6962b', '8': '#ef6b2b', '9': '#e8432a', '10': '#e63d2a',
};

function toPoints(flat, close) {
  const pts = [];
  for (let i = 0; i < flat.length; i += 2) pts.push({ x: flat[i], y: flat[i + 1] });
  if (close) pts.push({ x: flat[0], y: flat[1] });
  return pts;
}

const hideLabel = () => '';
const showLabel = v => (labelledTicks.includes(v) ? String(v) : '');

function axis(position, extent, labelled) {
  const vertical = position === 'left' || position === 'right';
  return {
    type: 'linear',
    position,
    min: axisMin,
    max: axisMax,
    afterBuildTicks(s) { s.ticks = tickValues.map(value => ({ value })); },
    afterFit(s) {
      if (vertical) s.width = extent; else s.height = extent;
      // tick labels must not push the plot area in
      s.paddingTop = s.paddingBottom = s.paddingLeft = s.paddingRight = 0;
    },
    grid: { drawOnChartArea: false, drawTicks: true, tickLength: -4, color: '#222', lineWidth: 1 },
    border: { display: true, color: '#222', width: 1.5 },
    ticks: {
      display: labelled,
      autoSkip: false,
      maxRotation: 0,
      padding: vertical ? 10 : 12,
      color: '#222',
      font: { family: '"Liberation Sans", sans-serif', size: 17 },
      callback: labelled ? showLabel : hideLabel,
    },
  };
}

function drawPanel(frameX, frameY, levels, shapes, ridge, band, showY, showX) {
  const pad = 4, leftExtent = showY ? 44 : 0, bottomExtent = showX ? 28 : 0, size = 221;
  const canvas = document.createElement('canvas');
  canvas.width = size + pad * 2 + leftExtent;
  canvas.height = size + pad * 2 + bottomExtent;
  canvas.style.left = (frameX - pad - leftExtent) + 'px';
  canvas.style.top = (frameY - pad) + 'px';
  document.getElementById('page').appendChild(canvas);

  // the first listed dataset ends up on top, so order runs backwards
  const datasets = shapes.map((flat, i) => ({
    data: toPoints(flat, true),
    showLine: true,
    fill: 'shape',
    backgroundColor: levelColors[levels[i]],
    borderColor: '#222',
    borderWidth: 1,
    tension: 0.42,
    pointRadius: 0,
    order: shapes.length - i,
  }));
  band.forEach(flat => {
    datasets.push({ data: toPoints(flat), showLine: true, fill: false, borderColor: '#1c1814', borderWidth: 0.9, tension: 0.4, pointRadius: 0, order: 0 });
  });
  datasets.push({ data: toPoints(diagonal), showLine: true, fill: false, borderColor: '#111', borderWidth: 1.3, pointRadius: 0, order: -1 });
  datasets.push({ data: toPoints(ridge), showLine: true, fill: false, borderColor: '#4a3fa3', borderWidth: 3, tension: 0, pointRadius: 0, borderCapStyle: 'round', borderJoinStyle: 'round', order: -2 });

  new Chart(canvas, {
    type: 'scatter',
    data: { datasets },
    options: {
      responsive: false,
      animation: false,
      events: [],
      layout: { padding: pad },
      plugins: { legend: { display: false }, tooltip: { enabled: false } },
      scales: {
        x: axis('bottom', bottomExtent, showX),
        xTop: axis('top', 0, false),
        y: axis('left', leftExtent, showY),
        yRight: axis('right', 0, false),
      },
    },
  });
}

drawPanel(94, 33, panelALevels, panelAShapes, panelARidge, panelABand, true, false);
drawPanel(315, 33, panelBLevels, panelBShapes, panelBRidge, panelBBand, false, false);
drawPanel(536, 33, panelCLevels, panelCShapes, panelCRidge, panelCBand, false, false);
drawPanel(94, 266, panelDLevels, panelDShapes, panelDRidge, panelDBand, true, true);
drawPanel(315, 266, panelELevels, panelEShapes, panelERidge, [], false, true);
drawPanel(536, 266, panelFLevels, panelFShapes, panelFRidge, [], false, true);
</script>
</body>
</html>
